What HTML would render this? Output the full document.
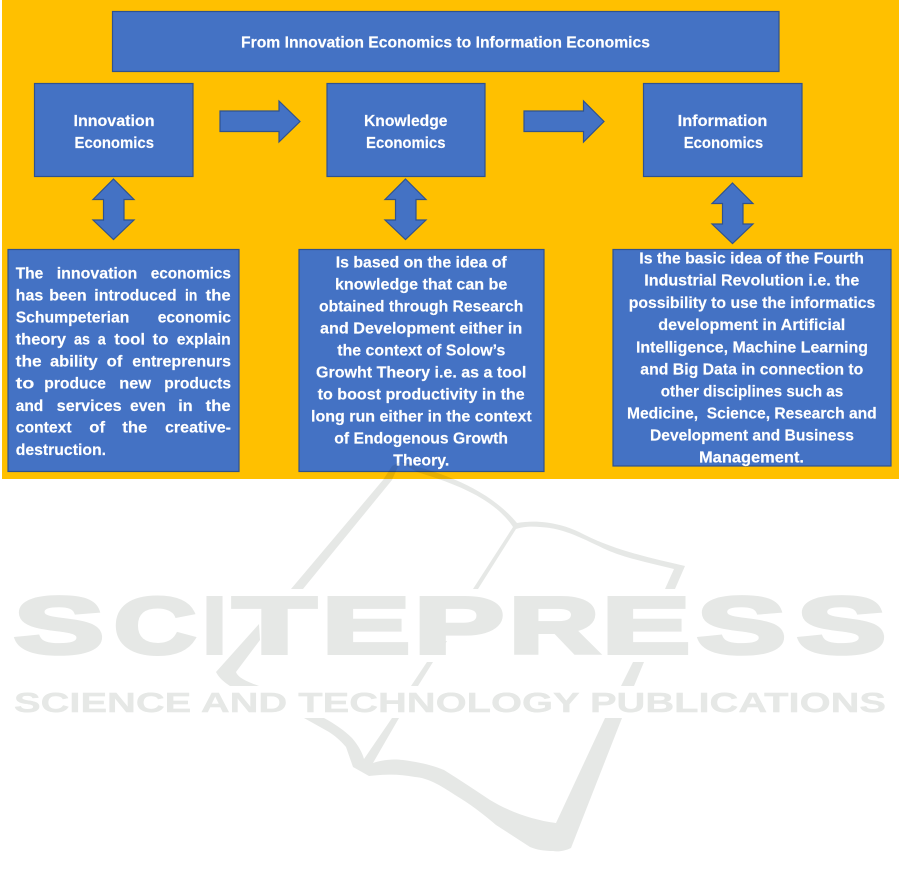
<!DOCTYPE html>
<html><head><meta charset="utf-8"><title>From Innovation Economics to Information Economics</title>
<style>
html,body{margin:0;padding:0;background:#fff;width:901px;height:886px;overflow:hidden}
svg{display:block;position:absolute;left:0;top:0}
.b{fill:#4472C4;stroke:#2F528F;stroke-width:1.2}
.t text{font-family:"Liberation Sans",sans-serif;font-weight:700;font-size:16px;fill:#fff;stroke:#fff;stroke-width:.15}
.w{mix-blend-mode:multiply}
.w path{fill:#e6e8e6}
.w text{font-family:"Liberation Sans",sans-serif;font-weight:700;fill:#e6e8e6;stroke:#e6e8e6;stroke-linejoin:miter}
</style></head><body>
<svg width="901" height="886" viewBox="0 0 901 886" xmlns="http://www.w3.org/2000/svg">
<rect x="2" y="0" width="897" height="479" fill="#FFC000"/>
<rect class="b" x="112.5" y="11.5" width="666.5" height="60"/>
<rect class="b" x="34.5" y="83.5" width="158.5" height="93"/>
<rect class="b" x="327" y="83.5" width="158" height="93"/>
<rect class="b" x="643.5" y="83.5" width="158.5" height="93"/>
<path class="b" d="M220 111H279V101L300 121.5L279 142V131.5H220Z"/>
<path class="b" d="M524 111H583.5V101L604 121.5L583.5 142V131.5H524Z"/>
<path class="b" d="M113.5 179L134 199.5H124V220H134L113.5 239.5L93 220H103.5V199.5H93Z"/>
<path class="b" d="M405.5 179L426 199.5H416V220H426L405.5 239.5L385 220H395.5V199.5H385Z"/>
<path class="b" d="M732.5 183L753 203.5H743V224H753L732.5 243.5L712 224H722.5V203.5H712Z"/>
<rect class="b" x="8" y="249.5" width="231" height="222"/>
<rect class="b" x="299" y="249.5" width="245" height="222"/>
<rect class="b" x="613" y="249.5" width="278" height="216.5"/>
<g class="t">
<text x="241" y="47.5" textLength="409" lengthAdjust="spacingAndGlyphs">From Innovation Economics to Information Economics</text>
<text x="73.5" y="126" textLength="81" lengthAdjust="spacingAndGlyphs">Innovation</text>
<text x="74.5" y="148" textLength="79.5" lengthAdjust="spacingAndGlyphs">Economics</text>
<text x="364" y="126" textLength="83.5" lengthAdjust="spacingAndGlyphs">Knowledge</text>
<text x="366" y="148" textLength="79.5" lengthAdjust="spacingAndGlyphs">Economics</text>
<text x="677.7" y="126" textLength="89.6" lengthAdjust="spacingAndGlyphs">Information</text>
<text x="683.7" y="148" textLength="79.5" lengthAdjust="spacingAndGlyphs">Economics</text>

<text y="278.3"><tspan x="15.7" textLength="27.6" lengthAdjust="spacingAndGlyphs">The</tspan> <tspan x="56.7" textLength="80.6" lengthAdjust="spacingAndGlyphs">innovation</tspan> <tspan x="150.7" textLength="80.3" lengthAdjust="spacingAndGlyphs">economics</tspan></text>
<text y="300.3"><tspan x="15.7" textLength="27.6" lengthAdjust="spacingAndGlyphs">has</tspan> <tspan x="49.3" textLength="37.3" lengthAdjust="spacingAndGlyphs">been</tspan> <tspan x="94.3" textLength="82.3" lengthAdjust="spacingAndGlyphs">introduced</tspan> <tspan x="185" textLength="12.3" lengthAdjust="spacingAndGlyphs">in</tspan> <tspan x="205.7" textLength="25" lengthAdjust="spacingAndGlyphs">the</tspan></text>
<text y="322.7"><tspan x="15.7" textLength="113.7" lengthAdjust="spacingAndGlyphs">Schumpeterian</tspan> <tspan x="157.7" textLength="73.3" lengthAdjust="spacingAndGlyphs">economic</tspan></text>
<text y="344.7"><tspan x="15.7" textLength="50.3" lengthAdjust="spacingAndGlyphs">theory</tspan> <tspan x="74" textLength="16" lengthAdjust="spacingAndGlyphs">as</tspan> <tspan x="97.7" textLength="8" lengthAdjust="spacingAndGlyphs">a</tspan> <tspan x="114.3" textLength="30.7" lengthAdjust="spacingAndGlyphs">tool</tspan> <tspan x="152.7" textLength="15.7" lengthAdjust="spacingAndGlyphs">to</tspan> <tspan x="176.7" textLength="54" lengthAdjust="spacingAndGlyphs">explain</tspan></text>
<text y="366.7"><tspan x="15.7" textLength="26" lengthAdjust="spacingAndGlyphs">the</tspan> <tspan x="50" textLength="47.7" lengthAdjust="spacingAndGlyphs">ability</tspan> <tspan x="106.7" textLength="15.7" lengthAdjust="spacingAndGlyphs">of</tspan> <tspan x="132.3" textLength="98.7" lengthAdjust="spacingAndGlyphs">entreprenurs</tspan></text>
<text y="388.7"><tspan x="15.7" textLength="18.7" lengthAdjust="spacingAndGlyphs">to</tspan> <tspan x="44.3" textLength="61.7" lengthAdjust="spacingAndGlyphs">produce</tspan> <tspan x="119.3" textLength="31.7" lengthAdjust="spacingAndGlyphs">new</tspan> <tspan x="164.3" textLength="66.7" lengthAdjust="spacingAndGlyphs">products</tspan></text>
<text y="411"><tspan x="15.7" textLength="27.6" lengthAdjust="spacingAndGlyphs">and</tspan> <tspan x="56.7" textLength="65" lengthAdjust="spacingAndGlyphs">services</tspan> <tspan x="130" textLength="35.7" lengthAdjust="spacingAndGlyphs">even</tspan> <tspan x="178.3" textLength="14.3" lengthAdjust="spacingAndGlyphs">in</tspan> <tspan x="205.7" textLength="25" lengthAdjust="spacingAndGlyphs">the</tspan></text>
<text y="432.7"><tspan x="15.7" textLength="56" lengthAdjust="spacingAndGlyphs">context</tspan> <tspan x="89.3" textLength="15.7" lengthAdjust="spacingAndGlyphs">of</tspan> <tspan x="122.3" textLength="25" lengthAdjust="spacingAndGlyphs">the</tspan> <tspan x="165" textLength="66" lengthAdjust="spacingAndGlyphs">creative-</tspan></text>
<text x="15.7" y="455" textLength="90.3" lengthAdjust="spacingAndGlyphs">destruction.</text>

<text x="335.7" y="267.3" textLength="171" lengthAdjust="spacingAndGlyphs">Is based on the idea of</text>
<text x="335" y="289.3" textLength="172.3" lengthAdjust="spacingAndGlyphs">knowledge that can be</text>
<text x="319" y="311.3" textLength="204.3" lengthAdjust="spacingAndGlyphs">obtained through Research</text>
<text x="320" y="333.3" textLength="202.3" lengthAdjust="spacingAndGlyphs">and Development either in</text>
<text x="337.3" y="355.7" textLength="168" lengthAdjust="spacingAndGlyphs">the context of Solow’s</text>
<text x="316" y="377.7" textLength="210.3" lengthAdjust="spacingAndGlyphs">Growht Theory i.e. as a tool</text>
<text x="317.7" y="399.7" textLength="207" lengthAdjust="spacingAndGlyphs">to boost productivity in the</text>
<text x="311" y="421.7" textLength="220.7" lengthAdjust="spacingAndGlyphs">long run either in the context</text>
<text x="334.3" y="443.7" textLength="173.7" lengthAdjust="spacingAndGlyphs">of Endogenous Growth</text>
<text x="393.3" y="465.7" textLength="56" lengthAdjust="spacingAndGlyphs">Theory.</text>

<text x="639.3" y="263.7" textLength="224.7" lengthAdjust="spacingAndGlyphs">Is the basic idea of the Fourth</text>
<text x="644.3" y="285.7" textLength="215" lengthAdjust="spacingAndGlyphs">Industrial Revolution i.e. the</text>
<text x="628.7" y="308" textLength="246.6" lengthAdjust="spacingAndGlyphs">possibility to use the informatics</text>
<text x="658.3" y="330" textLength="187" lengthAdjust="spacingAndGlyphs">development in Artificial</text>
<text x="636" y="352.3" textLength="232" lengthAdjust="spacingAndGlyphs">Intelligence, Machine Learning</text>
<text x="640.3" y="374.3" textLength="223" lengthAdjust="spacingAndGlyphs">and Big Data in connection to</text>
<text x="660.7" y="396.7" textLength="182.6" lengthAdjust="spacingAndGlyphs">other disciplines such as</text>
<text x="627" y="418.3" textLength="249.7" lengthAdjust="spacingAndGlyphs" xml:space="preserve">Medicine,  Science, Research and</text>
<text x="650" y="440.7" textLength="204" lengthAdjust="spacingAndGlyphs">Development and Business</text>
<text x="699" y="462.3" textLength="105" lengthAdjust="spacingAndGlyphs">Management.</text>
</g>
<g class="w">
<path d="M400 462L392 480L303 589H291L383 480L392 466Z"/>
<path d="M400 462C440 472 488 488 517 523C540 519 565 524 585 535C615 550 650 558 685 566L675 589H665L674 569C650 563 625 558 607 550C585 540 565 528 540 527C530 526 522 527 516 529L478 589H473L513 527C495 500 460 485 417 472Z"/>
<path d="M259 624L216 672C219 678 224 682 230 686H259C248 682 238 678 236 672L260 640Z"/>
<path d="M441 641H447L440 652Z"/>
<path d="M427 662H433L418 686H411Z"/>
<path d="M633 662H644L634 686H621Z"/>
<path d="M605 718H622L571 848C565 851 558 852 553 851C545 851 537 850 530 847L496 825C482 813 470 804 455 795C440 785 428 778 415 777C400 774 385 774 369 776L353 767L346 747C340 740 335 736 329 732L304 718H324C335 724 345 731 352 738C358 745 362 752 364 759L392 718H399L373 763C385 759 395 759 403 760C418 762 432 765 444 770C460 780 475 790 490 800C510 812 533 820 556 823Z"/>
<text y="653" font-size="80" stroke-width="4"><tspan x="14" textLength="90" lengthAdjust="spacingAndGlyphs">S</tspan><tspan x="114" textLength="82" lengthAdjust="spacingAndGlyphs">C</tspan><tspan x="203" textLength="23" lengthAdjust="spacingAndGlyphs">I</tspan><tspan x="233" textLength="83" lengthAdjust="spacingAndGlyphs">T</tspan><tspan x="322" textLength="88" lengthAdjust="spacingAndGlyphs">E</tspan><tspan x="414" textLength="90" lengthAdjust="spacingAndGlyphs">P</tspan><tspan x="509" textLength="90" lengthAdjust="spacingAndGlyphs">R</tspan><tspan x="602" textLength="88" lengthAdjust="spacingAndGlyphs">E</tspan><tspan x="697" textLength="89" lengthAdjust="spacingAndGlyphs">S</tspan><tspan x="797" textLength="89" lengthAdjust="spacingAndGlyphs">S</tspan></text>
<text x="14" y="712" font-size="28" stroke-width="0.4" textLength="872" lengthAdjust="spacingAndGlyphs">SCIENCE AND TECHNOLOGY PUBLICATIONS</text>
</g>
</svg>
</body></html>
